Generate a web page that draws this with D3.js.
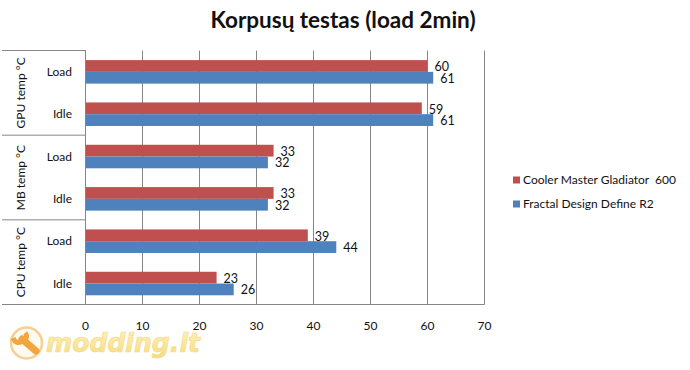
<!DOCTYPE html>
<html><head><meta charset="utf-8">
<script src="https://cdnjs.cloudflare.com/ajax/libs/d3/7.8.5/d3.min.js"></script>
<style>html,body{margin:0;padding:0;background:#fff}svg{display:block}text{font-family:Lato,"Open Sans",sans-serif;fill:#111}</style>
</head><body><svg id="c" width="690" height="370"></svg>
<script>
const groups = ["GPU temp °C","MB temp °C","CPU temp °C"];
const categories = ["Load","Idle"];
const seriesNames = ["Cooler Master Gladiator  600","Fractal Design Define R2"];
const seriesColors = ["#c0504d","#4f81bd"];
const coolerValues = [60,59,33,33,39,23];
const fractalValues = [61,61,32,32,44,26];
const xTicks = [0,10,20,30,40,50,60,70];
const titleText = "Korpusų testas (load 2min)";
const logoText = "modding.lt";

const svg = d3.select("#c");
const L=85.5,R=484.5,T=50.5,B=304.5;
const rows = d3.range(coolerValues.length);
const x = d3.scaleLinear().domain([0,70]).range([L,R]);
const y = d3.scaleBand().domain(rows).range([T,B]);
const pad = 9.6;
const inner = d3.scaleBand().domain([0,1]).range([pad,y.bandwidth()-pad+0.4]);
const grey="#868686";

// logo behind the chart
const logo = svg.append("g");
const grad = svg.append("defs").append("linearGradient").attr("id","lg").attr("x1",0).attr("x2",0).attr("y1",0).attr("y2",1);
grad.append("stop").attr("offset","0").attr("stop-color","#fdf3c0");
grad.append("stop").attr("offset","1").attr("stop-color","#f8dc7c");
logo.append("circle").attr("cx",26.5).attr("cy",343).attr("r",15.5).attr("fill","#fffaf0").attr("stroke","#f5cf94").attr("stroke-width",2.5);
logo.append("path").attr("d","M22 339 L36 351").attr("fill","none").attr("stroke","#f2a640").attr("stroke-width",7).attr("stroke-linecap","round");
logo.append("path").attr("d","M13 338 Q16 345 23 341 Q29 337 25 333").attr("fill","none").attr("stroke","#f2a640").attr("stroke-width",5);
logo.append("text").attr("x",46).attr("y",352).attr("font-size",26).attr("font-weight",700).attr("font-style","italic")
  .attr("textLength",154).attr("lengthAdjust","spacingAndGlyphs")
  .style("font-family","'DejaVu Sans'").style("fill","url(#lg)").attr("stroke","#f5d98a").attr("stroke-width",0.7).text(logoText);

svg.append("text").attr("x",343).attr("y",28).attr("text-anchor","middle").attr("font-size",22.5).attr("font-weight",700).text(titleText);

// grid
svg.append("g").selectAll("line").data(xTicks).join("line")
  .attr("x1",d=>x(d)).attr("x2",d=>x(d)).attr("y1",T).attr("y2",B).attr("stroke",grey);

// bars
[coolerValues,fractalValues].forEach((vals,s)=>{
  svg.append("g").selectAll("rect").data(vals).join("rect")
    .attr("x",L).attr("y",(d,i)=>y(i)+inner(s)).attr("width",d=>x(d)-L).attr("height",inner.bandwidth()).attr("fill",seriesColors[s]);
  svg.append("g").selectAll("text").data(vals).join("text")
    .attr("x",d=>x(d)+7).attr("y",(d,i)=>y(i)+inner(s)+inner.bandwidth()/2+(s?0.5:1)).attr("dy","0.35em").attr("font-size",12.5).text(d=>d);
});

// category axis
svg.append("line").attr("x1",L).attr("x2",L).attr("y1",T).attr("y2",B).attr("stroke",grey);
svg.append("line").attr("x1",L).attr("x2",R).attr("y1",B).attr("y2",B).attr("stroke",grey);
svg.append("g").selectAll("line").data(d3.range(groups.length+1)).join("line")
  .attr("x1",2).attr("x2",L).attr("y1",i=>T+i*(B-T)/groups.length).attr("y2",i=>T+i*(B-T)/groups.length).attr("stroke",grey);
svg.append("g").selectAll("text").data(rows).join("text")
  .attr("x",72).attr("y",i=>y(i)+y.bandwidth()/2).attr("dy","0.35em").attr("text-anchor","end").attr("font-size",12)
  .text(i=>categories[i%2]);
svg.append("g").selectAll("text").data(groups).join("text")
  .attr("transform",(d,i)=>`translate(20.5,${T+(i+0.5)*(B-T)/groups.length}) rotate(-90)`)
  .attr("dy","0.35em").attr("text-anchor","middle").attr("font-size",12).text(d=>d);

// x tick labels
svg.append("g").selectAll("text").data(xTicks).join("text")
  .attr("x",d=>x(d)).attr("y",326).attr("dy","0.35em").attr("text-anchor","middle").attr("font-size",12).text(d=>d);

// legend
seriesNames.forEach((n,i)=>{
  const ly=180+i*24;
  svg.append("rect").attr("x",513).attr("y",ly-3.5).attr("width",7).attr("height",7).attr("fill",seriesColors[i]);
  svg.append("text").attr("x",523).attr("y",ly).attr("dy","0.35em").attr("font-size",12).attr("xml:space","preserve").text(n);
});
</script></body></html>
